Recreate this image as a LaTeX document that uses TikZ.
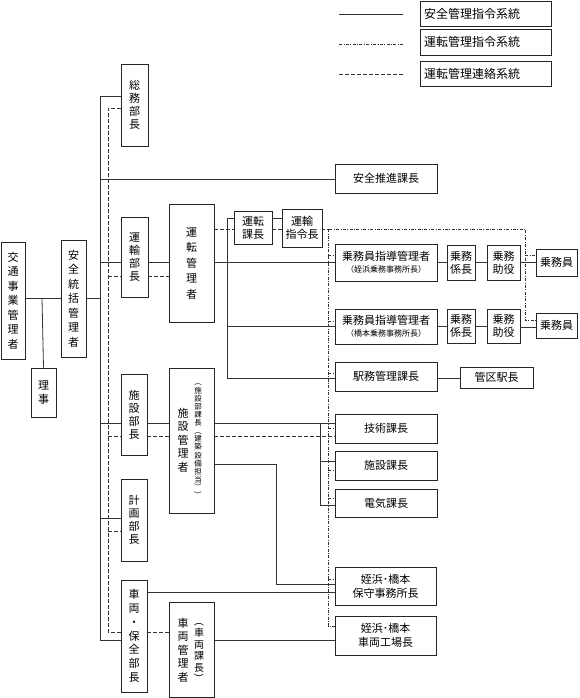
\documentclass[tikz,border=0pt]{standalone}
\usepackage{fontspec}
\usepackage{graphicx}
\setmainfont{Noto Sans CJK JP}
\newcommand\vlp{\rotatebox[origin=c]{-90}{（}}
\newcommand\vrp{\rotatebox[origin=c]{-90}{）}}
\tikzset{
  box/.style={draw=black!85, line width=0.9pt, inner sep=0pt, align=center, font=\fontsize{11}{13}\selectfont},
  vbox/.style={box, font=\fontsize{11}{13.5}\selectfont},
  solidln/.style={draw=black!80, line width=0.8pt},
  dashln/.style={draw=black!80, line width=0.8pt, dash pattern=on 4pt off 2pt},
  dotdashln/.style={draw=black!80, line width=0.7pt, dash pattern=on 3pt off 1.5pt on 0.8pt off 1.5pt},
  lgtext/.style={anchor=west, inner sep=0pt, font=\fontsize{12}{14}\selectfont},
  txt/.style={inner sep=0pt, align=center}
}
\newcommand\bx[7][]{\node[box,#1, minimum width={(#5-#3)*1pt}, minimum height={(#6-#4)*1pt}] (#2) at ({(#3+#5)/2},{(#4+#6)/2}) {#7};}
\begin{document}
\begin{tikzpicture}[x=1pt,y=-1pt]
\useasboundingbox (0,0) rectangle (579,698);

% ---------- boxes ----------
\bx[vbox,font=\fontsize{11}{14.5}\selectfont]{kotsu}{1}{242}{25}{359}{交\\通\\事\\業\\管\\理\\者}
\bx[vbox]{riji}{31}{368}{56}{417}{理\\事}
\bx[vbox,font=\fontsize{11}{14.5}\selectfont]{anzen}{61}{240}{86}{357}{安\\全\\統\\括\\管\\理\\者}
\bx[vbox,font=\fontsize{11}{12.8}\selectfont]{somu}{121}{64}{148}{146}{総\\務\\部\\長}
\bx[vbox,font=\fontsize{11}{13}\selectfont]{unyu}{121}{217}{148}{297}{運\\輸\\部\\長}
\bx[vbox,font=\fontsize{11}{13}\selectfont]{shisetsu}{121}{374}{147}{455}{施\\設\\部\\長}
\bx[vbox,font=\fontsize{11}{13}\selectfont]{keikaku}{121}{479}{147}{561}{計\\画\\部\\長}
\bx[vbox,font=\fontsize{11}{13.8}\selectfont]{sharyo}{121}{580}{147}{692}{車\\両\\・\\保\\全\\部\\長}
\bx[vbox,font=\fontsize{11}{15.5}\selectfont]{untenkan}{169}{204}{214}{322}{運\\転\\管\\理\\者}
\bx{shisetsukan}{169}{368}{214}{513}{}
\node[txt, font=\fontsize{11}{13.5}\selectfont] (shkmain) at (183,440) {施\\設\\管\\理\\者};
\node[txt, font=\fontsize{7.5}{8.1}\selectfont] (shkpar) at (198,439) {\vlp\\施\\設\\部\\課\\長\\\vlp\\建\\築\\設\\備\\担\\当\\\vrp\\\vrp};
\bx{sharyokan}{169}{602}{214}{697}{}
\node[txt, font=\fontsize{11}{13.5}\selectfont] (shrmain) at (183,650) {車\\両\\管\\理\\者};
\node[txt, font=\fontsize{10}{11.5}\selectfont] (shrpar) at (199,650) {\vlp\\車\\両\\課\\長\\\vrp};
\bx{untenka}{234}{211}{272}{244}{運転\\課長}
\bx{shirei}{282}{209}{322}{247}{運輸\\指令長}
\bx{suishin}{335}{164}{437}{193}{安全推進課長}
\bx{jm1}{335}{244}{437}{281}{乗務員指導管理者\\[-1pt]{\fontsize{8}{9}\selectfont （姪浜乗務事務所長）}}
\bx{kk1}{447}{245}{475}{280}{乗務\\係長}
\bx{jy1}{487}{245}{520}{280}{乗務\\助役}
\bx{in1}{536}{249}{577}{276}{乗務員}
\bx{jm2}{335}{309}{437}{344}{乗務員指導管理者\\[-1pt]{\fontsize{8}{9}\selectfont （橋本乗務事務所長）}}
\bx{kk2}{447}{309}{475}{343}{乗務\\係長}
\bx{jy2}{487}{309}{520}{343}{乗務\\助役}
\bx{in2}{536}{313}{577}{338}{乗務員}
\bx{ekimu}{335}{362}{437}{391}{駅務管理課長}
\bx{kanku}{460}{367}{533}{388}{管区駅長}
\bx{gijutsu}{335}{414}{437}{443}{技術課長}
\bx{shisetsuka}{335}{451}{437}{480}{施設課長}
\bx{denki}{335}{489}{437}{517}{電気課長}
\bx[font=\fontsize{11}{14}\selectfont]{hoshu}{335}{567}{436}{605}{姪浜･橋本\\保守事務所長}
\bx[font=\fontsize{11}{14}\selectfont]{kojo}{335}{616}{436}{655}{姪浜･橋本\\車両工場長}

% ---------- legend ----------
\bx{lg1}{420}{1}{551}{26}{}
\bx{lg2}{420}{29}{551}{55}{}
\bx{lg3}{420}{61}{551}{86}{}
\node[lgtext] (lgt1) at (424,13.5) {安全管理指令系統};
\node[lgtext] (lgt2) at (424,42) {運転管理指令系統};
\node[lgtext] (lgt3) at (424,73.5) {運転管理連絡系統};
\coordinate (la1) at (339,14); \coordinate (lb1) at (403,14);
\coordinate (la2) at (339,44); \coordinate (lb2) at (403,44);
\coordinate (la3) at (339,74); \coordinate (lb3) at (403,74);
\draw[solidln] (la1) -- (lb1);
\draw[dotdashln] (la2) -- (lb2);
\draw[dashln] (la3) -- (lb3);

% ---------- solid lines ----------
\draw[solidln] (kotsu.east |- 0,298) -- (anzen.west |- 0,298);
\draw[solidln] (42,298) -- (riji.north);
\coordinate (trunkTop) at (100,96);
\coordinate (trunkBot) at (100,640);
\draw[solidln] (anzen.east |- 0,298) -- (100,298);
\draw[solidln] (somu.west |- trunkTop) -- (trunkTop) -- (trunkBot) -- (sharyo.west |- trunkBot);
\draw[solidln] (100,179) -- (suishin.west |- 0,179);
\draw[solidln] (100,262) -- (unyu.west |- 0,262);
\draw[solidln] (unyu.east |- 0,262) -- (untenkan.west |- 0,262);
\draw[solidln] (untenkan.east |- 0,262) -- (jm1.west |- 0,262);
\draw[solidln] (100,423) -- (shisetsu.west |- 0,423);
\draw[solidln] (shisetsu.east |- 0,423) -- (shisetsukan.west |- 0,423);
\draw[solidln] (shisetsukan.east |- 0,423) -- (gijutsu.west |- 0,423);
\draw[solidln] (320,423) -- (320,505) -- (denki.west |- 0,505);
\draw[solidln] (320,461) -- (shisetsuka.west |- 0,461);
\draw[solidln] (100,518) -- (keikaku.west |- 0,518);
% untenkan branches
\draw[solidln] (untenka.west |- 0,218) -- (227,218) -- (227,378) -- (ekimu.west |- 0,378);
\draw[solidln] (227,326) -- (jm2.west |- 0,326);
\draw[solidln] (untenka.east |- 0,218) -- (shirei.west |- 0,218);
\draw[solidln] (ekimu.east |- 0,378) -- (kanku.west |- 0,378);
\draw[solidln] (jm1.east |- 0,262) -- (kk1.west |- 0,262);
\draw[solidln] (kk1.east |- 0,262) -- (jy1.west |- 0,262);
\draw[solidln] (jy1.east |- 0,262) -- (in1.west |- 0,262);
\draw[solidln] (jm2.east |- 0,326) -- (kk2.west |- 0,326);
\draw[solidln] (kk2.east |- 0,326) -- (jy2.west |- 0,326);
\draw[solidln] (jy2.east |- 0,327) -- (in2.west |- 0,327);
% shisetsukan to hoshu
\draw[solidln] (shisetsukan.east |- 0,464) -- (276,464) -- (276,584) -- (hoshu.west |- 0,584);
\draw[solidln] (sharyo.east |- 0,592) -- (hoshu.west |- 0,592);
\draw[solidln] (sharyokan.east |- 0,640) -- (kojo.west |- 0,640);

% ---------- dashed lines ----------
\draw[dashln] (somu.west |- 0,108) -- (108,108) -- (108,632) -- (sharyo.west |- 0,632);
\draw[dashln] (108,276) -- (unyu.west |- 0,276);
\draw[dashln] (unyu.east |- 0,276) -- (untenkan.west |- 0,276);
\draw[dashln] (untenkan.east |- 0,229) -- (untenka.west |- 0,229);
\draw[dashln] (untenka.east |- 0,229) -- (shirei.west |- 0,229);
\draw[dashln] (108,436) -- (shisetsu.west |- 0,436);
\draw[dashln] (shisetsu.east |- 0,436) -- (shisetsukan.west |- 0,436);
\draw[dashln] (shisetsukan.east |- 0,436) -- (gijutsu.west |- 0,436);
\draw[dashln] (108,531) -- (keikaku.west |- 0,531);
\draw[dashln] (sharyo.east |- 0,632) -- (sharyokan.west |- 0,632);

% ---------- dash-dot lines ----------
\draw[dotdashln] (shirei.east |- 0,229) -- (525,229) -- (525,320) -- (in2.west |- 0,320);
\draw[dotdashln] (525,255) -- (in1.west |- 0,255);
\draw[dotdashln] (328,229) -- (328,626) -- (kojo.west |- 0,626);
\draw[dotdashln] (328,255) -- (jm1.west |- 0,255);
\draw[dotdashln] (328,321) -- (jm2.west |- 0,321);
\draw[dotdashln] (328,373) -- (ekimu.west |- 0,373);
\draw[dotdashln] (328,428) -- (gijutsu.west |- 0,428);
\draw[dotdashln] (328,470) -- (shisetsuka.west |- 0,470);
\draw[dotdashln] (328,498) -- (denki.west |- 0,498);
\draw[dotdashln] (328,579) -- (hoshu.west |- 0,579);
\end{tikzpicture}
\end{document}
